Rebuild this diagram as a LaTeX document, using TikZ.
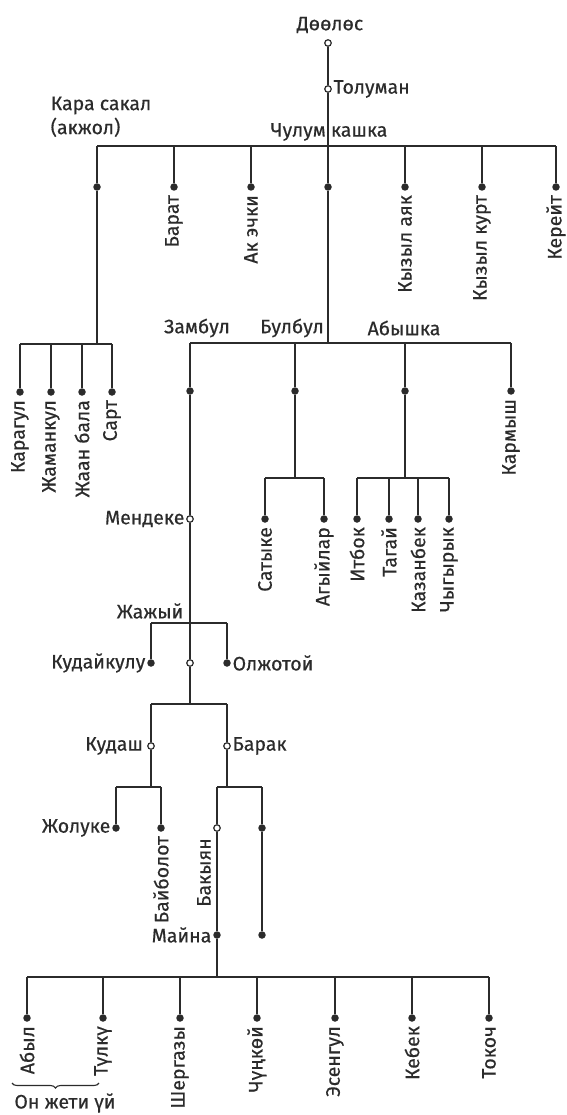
\documentclass[tikz,border=0pt]{standalone}
\usepackage{fontspec}
\setmainfont{Fira Sans}[FakeBold=0.5]
\usetikzlibrary{backgrounds,decorations.pathreplacing}
\definecolor{ink}{HTML}{2B2B2B}
\newcommand\lblfont{\fontsize{19.5}{24}\selectfont}
\tikzset{
  fdot/.style={circle, fill=ink, draw=none, inner sep=0pt, minimum size=7.5pt},
  odot/.style={circle, fill=white, draw=ink, line width=1.2pt, inner sep=0pt, minimum size=6.5pt},
  lab/.style={font=\lblfont, text=ink, inner sep=1.5pt},
  vlab/.style={lab, rotate=90, anchor=east, inner sep=4pt},
  llab/.style={lab, anchor=east},
  rlab/.style={lab, anchor=west},
  conn/.style={draw=ink, line width=1.8pt},
}
\begin{document}
\begin{tikzpicture}[x=1pt,y=-1pt]
\useasboundingbox (0,0) rectangle (566,1115);
% ---------- top
\node[lab] (tDool) at (330,25) {Дөөлөс};
\node[odot] (nDool) at (328,43) {};
\node[odot] (nTol) at (328,89) {};
\node[rlab] (tTol) at (nTol.east) {Толуман};
\node[lab, align=left, anchor=north west] (tKara) at (49,95) {Кара сакал\\(акжол)};
\node[lab] (tChul) at (329,132) {Чулум кашка};
\coordinate (bTop) at (328,146);
\coordinate (bA) at (97,146);
\coordinate (bG) at (556,146);
\node[fdot] (dA) at (97,187) {};
\node[fdot] (dB) at (174,187) {};
\node[fdot] (dC) at (251,187) {};
\node[fdot] (dD) at (328,187) {};
\node[fdot] (dE) at (405,187) {};
\node[fdot] (dF) at (482,187) {};
\node[fdot] (dG) at (556,187) {};
\node[vlab] (tB) at (dB.south) {Барат};
\node[vlab] (tC) at (dC.south) {Ак эчки};
\node[vlab] (tE) at (dE.south) {Кызыл аяк};
\node[vlab] (tF) at (dF.south) {Кызыл курт};
\node[vlab] (tG) at (dG.south) {Керейт};
% ---------- left branch (Кара сакал)
\coordinate (cKL) at (97,344);
\coordinate (kL) at (20,344);
\coordinate (kR) at (112,344);
\node[fdot] (kA) at (20,392) {};
\node[fdot] (kB) at (51,392) {};
\node[fdot] (kC) at (82,392) {};
\node[fdot] (kD) at (112,392) {};
\node[vlab] (tkA) at (kA.south) {Карагул};
\node[vlab] (tkB) at (kB.south) {Жаманкул};
\node[vlab] (tkC) at (kC.south) {Жаан бала};
\node[vlab] (tkD) at (kD.south) {Сарт};
% ---------- Чулум кашка branch
\coordinate (cZ) at (328,343);
\coordinate (zL) at (190,343);
\coordinate (zR) at (511,343);
\node[lab] (tZam) at (197,328) {Замбул};
\node[lab] (tBul) at (292,328) {Булбул};
\node[lab] (tAby) at (404,328) {Абышка};
\node[fdot] (zA) at (190,391) {};
\node[fdot] (zB) at (295,391) {};
\node[fdot] (zC) at (405,391) {};
\node[fdot] (zD) at (511,391) {};
\node[vlab] (tzD) at (zD.south) {Кармыш};
% Булбул
\coordinate (sJ) at (295,478);
\coordinate (sL) at (265,478);
\coordinate (sR) at (324,478);
\node[fdot] (sA) at (265,519) {};
\node[fdot] (sB) at (324,519) {};
\node[vlab] (tsA) at (sA.south) {Сатыке};
\node[vlab] (tsB) at (sB.south) {Агыйлар};
% Абышка
\coordinate (aJ) at (405,478);
\coordinate (aL) at (357,478);
\coordinate (aR) at (449,478);
\node[fdot] (aA) at (357,519) {};
\node[fdot] (aB) at (389,519) {};
\node[fdot] (aC) at (418,519) {};
\node[fdot] (aD) at (449,519) {};
\node[vlab] (taA) at (aA.south) {Итбок};
\node[vlab] (taB) at (aB.south) {Тагай};
\node[vlab] (taC) at (aC.south) {Казанбек};
\node[vlab] (taD) at (aD.south) {Чыгырык};
% Замбул line
\node[odot] (nMen) at (190,519) {};
\node[llab] (tMen) at (nMen.west) {Мендеке};
\coordinate (jJ) at (190,623);
\coordinate (jL) at (151,623);
\coordinate (jR) at (227,623);
\node[lab, anchor=east] (tZh) at (185,611) {Жажый};
\node[fdot] (jA) at (151,663) {};
\node[odot] (jB) at (190,663) {};
\node[fdot] (jC) at (227,663) {};
\node[llab] (tjA) at (jA.west) {Кудайкулу};
\node[rlab] (tjC) at (jC.east) {Олжотой};
\coordinate (qJ) at (190,704);
\coordinate (qL) at (151,704);
\coordinate (qR) at (227,704);
\node[odot] (nKud) at (151,746) {};
\node[odot] (nBar) at (227,746) {};
\node[llab, inner sep=4pt] (tKud) at (nKud.west) {Кудаш};
\node[rlab] (tBar) at (nBar.east) {Барак};
% Кудаш
\coordinate (uJ) at (151,787);
\coordinate (uL) at (116,787);
\coordinate (uR) at (161,787);
\node[fdot] (nZhol) at (116,828) {};
\node[fdot] (nBai) at (161,828) {};
\node[llab] (tZhol) at (nZhol.west) {Жолуке};
\node[vlab] (tBai) at (nBai.south) {Байболот};
% Барак
\coordinate (rJ) at (227,787);
\coordinate (rL) at (217,787);
\coordinate (rR) at (262,787);
\node[odot] (nBak) at (217,828) {};
\node[fdot] (nRt) at (262,828) {};
\node[vlab] (tBak) at (204,834) {Бакыян};
\node[fdot] (nMai) at (217,935) {};
\node[fdot] (nRb) at (262,935) {};
\node[llab] (tMai) at (nMai.west) {Майна};
% bottom
\coordinate (mJ) at (217,977);
\coordinate (mL) at (27,977);
\coordinate (mR) at (489,977);
\node[fdot] (m1) at (27,1018) {};
\node[fdot] (m2) at (103,1018) {};
\node[fdot] (m3) at (180,1018) {};
\node[fdot] (m4) at (257,1018) {};
\node[fdot] (m5) at (335,1018) {};
\node[fdot] (m6) at (412,1018) {};
\node[fdot] (m7) at (489,1018) {};
\node[vlab] (tm1) at (m1.south) {Абыл};
\node[vlab] (tm2) at (m2.south) {Түлкү};
\node[vlab] (tm3) at (m3.south) {Шергазы};
\node[vlab] (tm4) at (m4.south) {Чүңкөй};
\node[vlab] (tm5) at (m5.south) {Эсенгул};
\node[vlab] (tm6) at (m6.south) {Кебек};
\node[vlab] (tm7) at (m7.south) {Токоч};
\coordinate (brL) at (12,1083);
\coordinate (brR) at (99,1083);
\node[lab] (tOn) at (65,1103) {Он жети үй};
% ---------- connectors
\begin{pgfonlayer}{background}
\draw[conn] (nDool) -- (nTol);
\draw[conn] (nTol) -- (dD);
\draw[conn] (bA) -- (bG);
\foreach \n in {A,B,C,E,F,G} \draw[conn] (d\n) -- (d\n |- bTop);
\draw[conn] (dA) -- (cKL);
\draw[conn] (kL) -- (kR);
\foreach \n in {A,B,C,D} \draw[conn] (k\n) -- (k\n |- kL);
\draw[conn] (dD) -- (cZ);
\draw[conn] (zL) -- (zR);
\foreach \n in {A,B,C,D} \draw[conn] (z\n) -- (z\n |- zL);
\draw[conn] (zB) -- (sJ);
\draw[conn] (sL) -- (sR);
\foreach \n in {A,B} \draw[conn] (s\n) -- (s\n |- sL);
\draw[conn] (zC) -- (aJ);
\draw[conn] (aL) -- (aR);
\foreach \n in {A,B,C,D} \draw[conn] (a\n) -- (a\n |- aL);
\draw[conn] (zA) -- (nMen);
\draw[conn] (nMen) -- (jJ);
\draw[conn] (jL) -- (jR);
\draw[conn] (jA) -- (jA |- jL);
\draw[conn] (jC) -- (jC |- jL);
\draw[conn] (jJ) -- (jB);
\draw[conn] (jB) -- (qJ);
\draw[conn] (qL) -- (qR);
\draw[conn] (nKud) -- (nKud |- qL);
\draw[conn] (nBar) -- (nBar |- qR);
\draw[conn] (nKud) -- (uJ);
\draw[conn] (uL) -- (uR);
\draw[conn] (nZhol) -- (nZhol |- uL);
\draw[conn] (nBai) -- (nBai |- uR);
\draw[conn] (nBar) -- (rJ);
\draw[conn] (rL) -- (rR);
\draw[conn] (nBak) -- (nBak |- rL);
\draw[conn] (nRt) -- (nRt |- rR);
\draw[conn] (nRt) -- (nRb);
\draw[conn] (nBak) -- (nMai);
\draw[conn] (nMai) -- (mJ);
\draw[conn] (mL) -- (mR);
\foreach \n in {1,...,7} \draw[conn] (m\n) -- (m\n |- mL);
\draw[ink, line width=1.1pt, decorate, decoration={brace, mirror, amplitude=5pt}] (brL) -- (brR);
\end{pgfonlayer}
\end{tikzpicture}
\end{document}
